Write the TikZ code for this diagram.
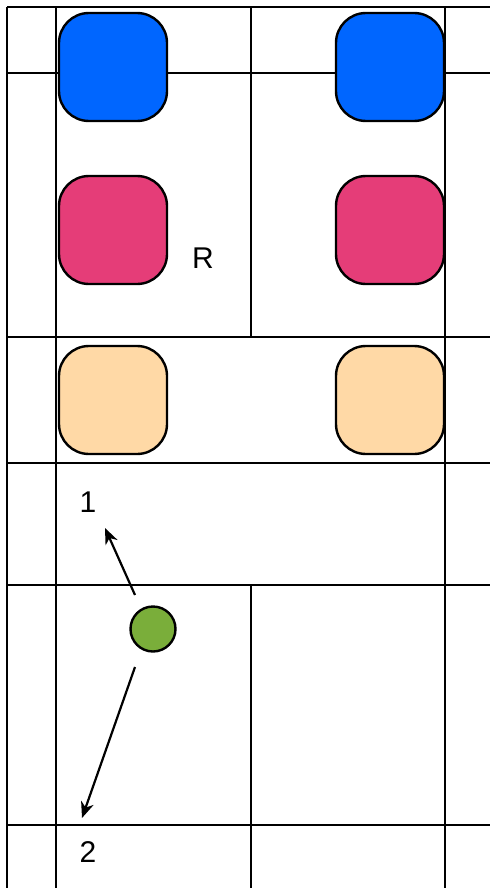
\documentclass[tikz,border=0pt]{standalone}
\usepackage{fontspec}
\setmainfont{Liberation Sans}
\usetikzlibrary{arrows.meta}
\definecolor{cblue}{HTML}{0066FF}
\definecolor{cpink}{HTML}{E53D78}
\definecolor{corange}{HTML}{FFD9A6}
\definecolor{cgreen}{HTML}{7AAE3A}
\tikzset{
  gridline/.style={line width=2.4pt, black},
  tile/.style={rectangle, draw=black, line width=2.4pt, minimum width=108pt, minimum height=108pt, inner sep=0pt, rounded corners=30pt},
  ball/.style={circle, draw=black, line width=2.4pt, fill=cgreen, minimum size=45pt, inner sep=0pt},
  lbl/.style={font=\fontsize{30}{34}\selectfont, inner sep=0pt},
  arr/.style={line width=2.2pt, -{Stealth[length=16pt, width=13pt, inset=5pt]}}
}
\begin{document}
\begin{tikzpicture}[x=1pt, y=-1pt]
\useasboundingbox (0,0) rectangle (490,888);
\fill[white] (0,0) rectangle (490,888);
% horizontal grid lines
\foreach \yy in {7,73,337,463,585,825}
  \draw[gridline] (7,\yy) -- (490,\yy);
% vertical grid lines
\draw[gridline] (7,7) -- (7,888);
\draw[gridline] (56,7) -- (56,888);
\draw[gridline] (251,7) -- (251,337);
\draw[gridline] (251,585) -- (251,888);
\draw[gridline] (445,7) -- (445,888);
% tiles
\node[tile, fill=cblue] (b1) at (113,67) {};
\node[tile, fill=cblue] (b2) at (390,67) {};
\node[tile, fill=cpink] (p1) at (113,230) {};
\node[tile, fill=cpink] (p2) at (390,230) {};
\node[tile, fill=corange] (o1) at (113,400) {};
\node[tile, fill=corange] (o2) at (390,400) {};
% ball and labels
\node[ball] (g) at (153,629) {};
\node[lbl] (r) at (203,258) {R};
\node[lbl] (l1) at (88,502) {1};
\node[lbl] (l2) at (88,852) {2};
% arrows
\coordinate (s1) at (135,595);
\coordinate (e1) at (105,528);
\coordinate (s2) at (135,667);
\coordinate (e2) at (82,818);
\draw[arr] (s1) -- (e1);
\draw[arr] (s2) -- (e2);
\end{tikzpicture}
\end{document}
